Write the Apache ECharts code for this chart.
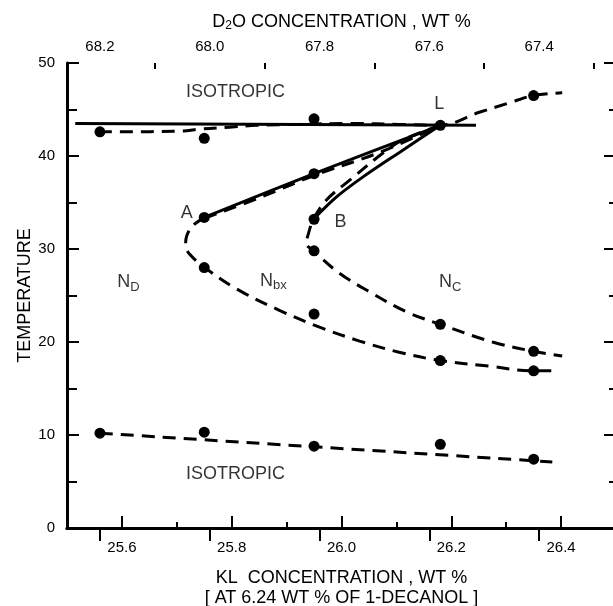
<!DOCTYPE html>
<html>
<head>
<meta charset="utf-8">
<style>
    html, body { margin: 0; padding: 0; background: #fff; }
    #phaseDiagram { width: 613px; height: 606px; }
</style>
</head>
<body>
<div id="phaseDiagram"></div>
<script src="https://cdn.jsdelivr.net/npm/echarts@6/dist/echarts.min.js"></script>
<script>
    // x = KL wt %, y = temperature
    var dotsIsoTop = [[25.56, 42.6], [25.75, 41.9], [25.95, 44.0], [26.18, 43.3], [26.35, 46.5]];
    var dotsMiddle = [[25.75, 33.4], [25.95, 38.1], [25.95, 33.2], [25.95, 29.8], [25.75, 28.0],
                      [25.95, 23.0], [26.18, 21.9], [26.18, 18.0], [26.35, 19.0], [26.35, 16.9]];
    var dotsIsoBottom = [[25.56, 10.2], [25.75, 10.3], [25.95, 8.8], [26.18, 9.0], [26.35, 7.4]];

    // solid lines
    var solidTop = [[25.515, 43.5], [26.245, 43.3]];
    var solidAL = [[25.75, 33.4], [25.95, 38.1], [26.18, 43.3]];
    var solidBL = [[25.949, 33.2], [25.991, 35.6], [26.038, 37.7], [26.111, 40.6], [26.18, 43.3]];

    // dashed lines
    var dashTop = [[25.558, 42.6], [25.593, 42.6], [25.711, 42.7], [25.742, 42.9], [25.796, 43.1],
                   [25.845, 43.3], [25.924, 43.4], [26.015, 43.5], [26.105, 43.4], [26.18, 43.3],
                   [26.251, 44.7], [26.305, 45.7], [26.349, 46.5], [26.402, 46.8]];
    var dashAL = [[25.75, 33.3], [25.85, 35.5], [25.95, 37.9], [26.07, 40.4], [26.18, 43.3]];
    var dashOuter = [[25.751, 33.4], [25.729, 32.5], [25.718, 31.4], [25.716, 30.4], [25.724, 29.4],
                     [25.751, 28.0], [25.809, 25.7], [25.887, 23.4], [25.96, 21.6], [26.033, 20.1],
                     [26.105, 18.9], [26.18, 18.0], [26.269, 17.4], [26.349, 16.9], [26.396, 16.9]];
    var dashInner = [[26.18, 43.3], [26.111, 41.7], [26.075, 40.3], [26.015, 37.4], [25.973, 35.3],
                     [25.949, 33.2], [25.938, 31.3], [25.936, 30.6], [25.949, 29.8], [25.996, 27.4],
                     [26.051, 25.4], [26.12, 23.2], [26.18, 21.9], [26.275, 20.0], [26.349, 19.0],
                     [26.402, 18.5]];
    var dashBottom = [[25.56, 10.2], [26.384, 7.1]];

    // region labels [x, y, text]
    var regionLabels = [
        [25.807, 46.9, '{t|ISOTROPIC}'],
        [25.807, 5.8, '{t|ISOTROPIC}'],
        [26.178, 45.6, '{t|L}'],
        [25.718, 33.9, '{t|A}'],
        [25.998, 32.9, '{t|B}'],
        [25.612, 26.4, '{t|N}{s|D}'],
        [25.876, 26.6, '{t|N}{s|bx}'],
        [26.198, 26.4, '{t|N}{s|C}']
    ];

    // axes
    var kRange = [25.5, 26.5];
    var kMajor = [25.6, 25.8, 26.0, 26.2, 26.4];
    var kMinor = [25.7, 25.9, 26.1, 26.3];
    var d2oRange = [67.26, 68.26];
    var d2oMajor = [67.4, 67.6, 67.8, 68.0, 68.2];
    var d2oMinor = [67.3, 67.5, 67.7, 67.9, 68.1];
    var tRange = [0, 50];
    var tInterval = 10;

    var FONT = "'Liberation Sans', Arial, sans-serif";
    var BLACK = '#000';

    function frameAxis(extra) {
        var base = {
            type: 'value',
            axisLine: {show: true, lineStyle: {color: BLACK, width: 3}},
            axisTick: {show: true, inside: true, length: 12, lineStyle: {color: BLACK, width: 2}},
            minorTick: {show: false},
            splitLine: {show: false},
            axisLabel: {show: false}
        };
        for (var k in extra) base[k] = extra[k];
        return base;
    }

    function minorAxis(pos, range, values, inverse) {
        return {
            type: 'value', position: pos, inverse: !!inverse,
            min: range[0], max: range[1],
            axisLine: {show: false},
            axisTick: {show: true, inside: true, length: 6, customValues: values,
                lineStyle: {color: BLACK, width: 2}},
            axisLabel: {show: false},
            splitLine: {show: false}
        };
    }

    function lineSeries(data, dashed) {
        return {
            type: 'line',
            data: data,
            smooth: 0.35,
            showSymbol: false,
            silent: true,
            lineStyle: {color: BLACK, width: 3, type: dashed ? [13, 8] : 'solid'},
            z: 2
        };
    }

    function dotSeries(data) {
        return {
            type: 'scatter',
            data: data,
            symbol: 'circle',
            symbolSize: 11,
            itemStyle: {color: BLACK, opacity: 1},
            z: 3
        };
    }

    var chart = echarts.init(document.getElementById('phaseDiagram'), null, {renderer: 'canvas'});
    var option = {
        animation: false,
        backgroundColor: '#fff',
        textStyle: {fontFamily: FONT},
        grid: {left: 67, right: -3, top: 63, bottom: 78, containLabel: false, outerBoundsMode: 'none'},
        xAxis: [
            frameAxis({
                position: 'bottom',
                min: kRange[0], max: kRange[1],
                axisTick: {show: true, inside: true, length: 12, customValues: kMajor,
                    lineStyle: {color: BLACK, width: 2}},
                axisLabel: {show: true, color: BLACK, fontFamily: FONT, fontSize: 15, margin: 12,
                    customValues: kMajor,
                    formatter: function (v) { return v.toFixed(1); }},
                name: 'KL  CONCENTRATION , WT %\n[ AT 6.24 WT % OF 1-DECANOL ]',
                nameLocation: 'middle', nameGap: 40, nameMoveOverlap: false,
                nameTextStyle: {color: BLACK, fontFamily: FONT, fontSize: 18, lineHeight: 20}
            }),
            frameAxis({
                position: 'top', inverse: true,
                min: d2oRange[0], max: d2oRange[1],
                axisTick: {show: true, inside: true, length: 13, customValues: d2oMajor,
                    lineStyle: {color: BLACK, width: 2}},
                axisLabel: {show: true, color: BLACK, fontFamily: FONT, fontSize: 15, margin: 9,
                    customValues: d2oMajor,
                    formatter: function (v) { return v.toFixed(1); }},
                name: '{n|D}{s|2}{n|O CONCENTRATION , WT %}',
                nameLocation: 'middle', nameGap: 31, nameMoveOverlap: false,
                nameTextStyle: {
                    color: BLACK, fontFamily: FONT, fontSize: 18,
                    rich: {
                        n: {fontFamily: FONT, fontSize: 18, color: BLACK},
                        s: {fontFamily: FONT, fontSize: 12, color: BLACK, padding: [8, 0, 0, 0]}
                    }
                }
            }),
            minorAxis('bottom', kRange, kMinor, false),
            minorAxis('top', d2oRange, d2oMinor, true)
        ],
        yAxis: [
            frameAxis({
                position: 'left',
                min: tRange[0], max: tRange[1], interval: tInterval,
                minorTick: {show: true, splitNumber: 2, length: 10, lineStyle: {color: BLACK, width: 2}},
                axisLabel: {show: true, color: BLACK, fontFamily: FONT, fontSize: 15, margin: 12},
                name: 'TEMPERATURE',
                nameLocation: 'middle', nameGap: 33, nameMoveOverlap: false,
                nameTextStyle: {color: BLACK, fontFamily: FONT, fontSize: 18}
            }),
            frameAxis({
                position: 'right',
                min: tRange[0], max: tRange[1], interval: tInterval,
                minorTick: {show: true, splitNumber: 2, length: 7, lineStyle: {color: BLACK, width: 2}}
            })
        ],
        series: [
            lineSeries(solidTop, false),
            lineSeries(solidAL, false),
            lineSeries(solidBL, false),
            lineSeries(dashTop, true),
            lineSeries(dashAL, true),
            lineSeries(dashOuter, true),
            lineSeries(dashInner, true),
            lineSeries(dashBottom, true),
            dotSeries(dotsIsoTop),
            dotSeries(dotsMiddle),
            dotSeries(dotsIsoBottom),
            {
                type: 'scatter',
                data: regionLabels,
                symbolSize: 0,
                silent: true,
                label: {
                    show: true,
                    position: 'inside',
                    formatter: function (p) { return p.value[2]; },
                    rich: {
                        t: {fontFamily: FONT, fontSize: 18, color: BLACK},
                        s: {fontFamily: FONT, fontSize: 13, color: BLACK, padding: [9, 0, 0, 0]}
                    }
                },
                z: 4
            }
        ]
    };
    chart.setOption(option);
</script>
</body>
</html>
